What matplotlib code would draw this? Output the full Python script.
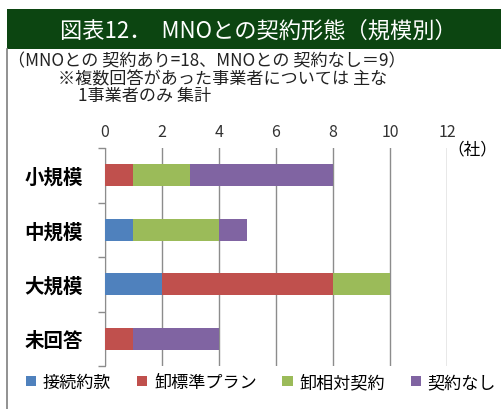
import numpy as np
import matplotlib.pyplot as plt
from matplotlib.patches import Rectangle
from matplotlib.lines import Line2D

plt.rcParams['font.family'] = ['Noto Sans CJK JP', 'DejaVu Sans']

#========================================================
# data
categories = ['小規模', '中規模', '大規模', '未回答']
series_names = ['接続約款', '卸標準プラン', '卸相対契約', '契約なし']
setsuzoku = [0, 1, 2, 0]
oroshi_std = [1, 0, 6, 1]
oroshi_rel = [2, 3, 2, 0]
keiyaku_nashi = [5, 1, 0, 3]
xticks = [0, 2, 4, 6, 8, 10, 12]
#========================================================

colors = ['#4F81BD', '#C0504D', '#9BBB59', '#8064A2']
series = [setsuzoku, oroshi_std, oroshi_rel, keiyaku_nashi]

fig = plt.figure(figsize=(5.02, 4.10), dpi=100)

# title bar and frame
fig.patches.append(Rectangle((7/502, 1-50/410), 1, 40/410, transform=fig.transFigure,
                             facecolor='#0c4511', edgecolor='none'))
fig.lines.append(Line2D([7/502, 7/502], [0, 1-50/410], transform=fig.transFigure,
                        color='#7f7f7f', lw=1.2))
fig.text(0.515, 1-31/410, '図表12．  MNOとの契約形態（規模別）', color='white',
         fontsize=16, ha='center', va='center')

fig.text(8/502, 1-61/410, '（MNOとの 契約あり=18、MNOとの 契約なし＝9）',
         fontsize=12.3, ha='left', va='center', color='#222222')
fig.text(58/502, 1-79/410, '※複数回答があった事業者については 主な',
         fontsize=12.3, ha='left', va='center', color='#222222')
fig.text(78/502, 1-96/410, '1事業者のみ 集計',
         fontsize=12.3, ha='left', va='center', color='#222222')

ax = fig.add_axes([105/502, 1-367/410, 342/502, 218/410])

y = np.arange(len(categories))
left = np.zeros(len(categories))
for vals, c, name in zip(series, colors, series_names):
    ax.barh(y, vals, left=left, height=0.4, color=c, label=name, zorder=3)
    left += np.array(vals)

ax.set_xlim(0, 12)
ax.set_ylim(len(categories) - 0.5, -0.5)
ax.set_xticks(xticks)
ax.xaxis.tick_top()
ax.tick_params(axis='x', length=0, pad=6, labelsize=11.5, labelcolor='#333333')
ax.grid(axis='x', color='#8c8c8c', lw=1, zorder=0)

ax.set_yticks(y)
ax.set_yticklabels(categories, fontsize=14, fontweight='bold')
ax.set_yticks(np.arange(-0.5, len(categories), 1), minor=True)
ax.tick_params(axis='y', which='major', length=0, pad=16)
ax.tick_params(axis='y', which='minor', length=5, color='#8c8c8c', width=1)

for s in ['top', 'right', 'bottom']:
    ax.spines[s].set_visible(False)
ax.spines['left'].set_color('#8c8c8c')

fig.text(447/502, 1-150/410, '（社）', fontsize=12, ha='left', va='center')

fig.legend(loc='center', bbox_to_anchor=(0.52, 1-383/410), ncol=4, frameon=False,
           fontsize=12.3, handlelength=0.6, handleheight=0.6, handletextpad=0.4,
           columnspacing=1.5, borderaxespad=0)

fig.savefig('out.png', dpi=100)
